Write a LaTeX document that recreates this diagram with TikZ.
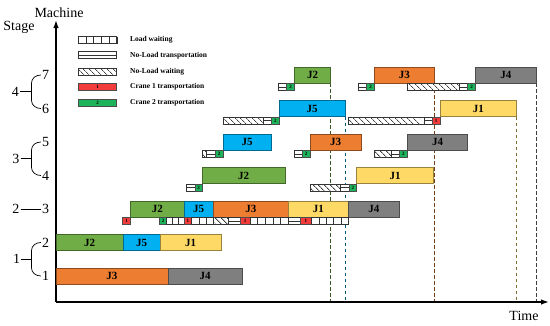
\documentclass[tikz,border=0pt]{standalone}
\usepackage{fontspec}
\setmainfont{Liberation Serif}
\usetikzlibrary{arrows.meta,patterns.meta,backgrounds}

\definecolor{jobone}{HTML}{FFD966}
\definecolor{jobtwo}{HTML}{70AD47}
\definecolor{jobthree}{HTML}{ED7D31}
\definecolor{jobfour}{HTML}{7F7F7F}
\definecolor{jobfive}{HTML}{00B0F0}
\definecolor{crane1}{HTML}{F23B3B}
\definecolor{crane2}{HTML}{1DB35B}

% job bar: name, colour, x1, x2, top, job number
\newcommand{\jobbar}[6]{%
  \node[jobbox, fill=#2, draw=#2!60!black, minimum width={#4-#3}, anchor=north west] (#1) at (#3,#5) {J#6};}
% load waiting: x1, x2, top, number of squares
\newcommand{\waitload}[4]{%
  \draw[smallbox] (#1,#3) rectangle (#2,#3+7);
  \pgfmathsetmacro{\sqw}{(#2-#1)/#4}
  \foreach \k in {1,...,#4} \draw[thin, black!80] (#1+\k*\sqw,#3) -- ++(0,7);}
% no-load transportation: x1, x2, top
\newcommand{\emptymove}[3]{%
  \draw[smallbox] (#1,#3) rectangle (#2,#3+7);
  \draw[thin, black!80] (#1,#3+3.5) -- (#2,#3+3.5);}
% no-load waiting: x1, x2, top
\newcommand{\idlewait}[3]{\draw[hatchbox] (#1,#3) rectangle (#2,#3+7);}
% crane transportation: name, crane, x1, x2, top
\newcommand{\cranemove}[5]{%
  \node[cranebox, fill=crane#2, minimum width={#4-#3}, anchor=north west] (#1) at (#3,#5) {#2};}

\begin{document}
\begin{tikzpicture}[x=1pt,y=-1pt,
	jobbox/.style={line width=0.8pt, inner sep=0pt, outer sep=0pt, minimum height=16pt,
		font=\fontsize{11}{11}\selectfont\bfseries},
	smallbox/.style={draw=black!80, line width=0.6pt, fill=white},
	hatchbox/.style={smallbox, postaction={pattern={Lines[angle=-45,distance=4pt,line width=0.8pt]}, pattern color=black!75}},
	cranebox/.style={draw=black!70, line width=0.5pt, inner sep=0pt, outer sep=0pt, minimum height=7pt,
		font=\fontsize{5}{5}\selectfont\bfseries},
	endline/.style={line width=1pt, dash pattern=on 3.5pt off 2.5pt},
	axisline/.style={line width=1.4pt, -{Latex[length=8pt,width=5.5pt]}},
	lbl/.style={font=\fontsize{14}{14}\selectfont, inner sep=1pt},
	legtext/.style={font=\fontsize{7.5}{7.5}\selectfont\bfseries, anchor=west, inner sep=0pt}]
	
	\useasboundingbox (0,0) rectangle (550,325);
	
	%--- axes ---
	\coordinate (origin) at (56,302);
	\coordinate (ytip) at (56,20);
	\coordinate (xtip) at (549,302);
	\draw[axisline] (origin) -- (ytip);
	\draw[axisline] (origin) -- (xtip);
	\node[lbl] (machine) at (59,12.5) {Machine};
	\node[lbl] (stage) at (19,27.5) {Stage};
	\node[lbl] (time) at (524,316) {Time};
	
	%--- machine and stage labels ---
	\foreach \m/\yy in {1/276, 2/242.5, 3/209, 4/175.5, 5/142, 6/108.5, 7/75}
		\node[lbl] (mc\m) at (45.5,\yy) {\m};
	\foreach \s/\xx/\yy in {1/16.5/259.25, 2/16/209, 3/16/158.75, 4/15.5/91.75}
		\node[lbl] (st\s) at (\xx,\yy) {\s};
	
	% braces stage -> machines
	\draw[line width=0.7pt] (st4.east) -- (31.5,91.75);
	\draw[line width=0.7pt] (mc7.west) to[out=180,in=90] (31.5,83) -- (31.5,100.5) to[out=-90,in=180] (mc6.west);
	\draw[line width=0.7pt] (st3.east) -- (31.5,158.75);
	\draw[line width=0.7pt] (mc5.west) to[out=180,in=90] (31.5,150) -- (31.5,167.5) to[out=-90,in=180] (mc4.west);
	\draw[line width=0.7pt] (st2.east) -- (mc3.west);
	\draw[line width=0.7pt] (st1.east) -- (31.5,259.25);
	\draw[line width=0.7pt] (mc2.west) to[out=180,in=90] (31.5,250.5) -- (31.5,268) to[out=-90,in=180] (mc1.west);
	
	%--- legend ---
	\waitload{78.3}{116.7}{36.7}{5}
	\emptymove{78.3}{116.7}{51.7}
	\idlewait{78.3}{116.7}{68.3}
	\cranemove{legA}{1}{78.3}{116.7}{83.3}
	\cranemove{legB}{2}{78.3}{116.7}{99.3}
	\node[legtext] (legwait) at (130,40.2) {Load waiting};
	\node[legtext] (legmove) at (130,55.5) {No-Load transportation};
	\node[legtext] (legidle) at (130,71.8) {No-Load waiting};
	\node[legtext] (legcA) at (130,87) {Crane 1 transportation};
	\node[legtext] (legcB) at (130,103) {Crane 2 transportation};
	
	%--- machine 1 ---
	\jobbar{m1j3}{jobthree}{56}{168}{268}{3}
	\jobbar{m1j4}{jobfour}{168}{242}{268}{4}
	
	%--- machine 2 ---
	\jobbar{m2j2}{jobtwo}{56}{123}{234.5}{2}
	\jobbar{m2j5}{jobfive}{123}{160}{234.5}{5}
	\jobbar{m2j1}{jobone}{160}{221}{234.5}{1}
	
	%--- machine 3 ---
	\jobbar{m3j2}{jobtwo}{130.7}{184}{201}{2}
	\jobbar{m3j5}{jobfive}{184}{213.3}{201}{5}
	\jobbar{m3j3}{jobthree}{213.3}{288.3}{201}{3}
	\jobbar{m3j1}{jobone}{288.3}{348.3}{201}{1}
	\jobbar{m3j4}{jobfour}{348.3}{399.3}{201}{4}
	\cranemove{m3a}{1}{122.7}{130.7}{217.5}
	\cranemove{m3b}{2}{159.3}{166.7}{217.5}
	\waitload{166.7}{184}{217.5}{3}
	\cranemove{m3c}{1}{184}{191.7}{217.5}
	\waitload{191.7}{213.3}{217.5}{3}
	\idlewait{213.3}{228.3}{217.5}
	\emptymove{228.3}{240}{217.5}
	\cranemove{m3d}{1}{240}{250}{217.5}
	\waitload{250}{288.3}{217.5}{5}
	\emptymove{288.3}{300}{217.5}
	\cranemove{m3e}{1}{300}{311.7}{217.5}
	\waitload{311.7}{348.3}{217.5}{5}
	
	%--- machine 4 ---
	\jobbar{m4j2}{jobtwo}{202.3}{285}{167.5}{2}
	\jobbar{m4j1}{jobone}{356.7}{433.3}{167.5}{1}
	\emptymove{186}{195}{184}
	\cranemove{m4a}{2}{195}{202.3}{184}
	\idlewait{310}{340.7}{184}
	\emptymove{340.7}{349}{184}
	\cranemove{m4b}{2}{349}{356.7}{184}
	
	%--- machine 5 ---
	\jobbar{m5j5}{jobfive}{223.3}{271}{134}{5}
	\jobbar{m5j3}{jobthree}{310}{361}{134}{3}
	\jobbar{m5j4}{jobfour}{407.3}{467.7}{134}{4}
	\idlewait{202.3}{206}{150.5}
	\emptymove{206}{215}{150.5}
	\cranemove{m5a}{2}{215}{223.3}{150.5}
	\emptymove{294.3}{302.3}{150.5}
	\cranemove{m5b}{2}{302.3}{310}{150.5}
	\idlewait{374}{391.7}{150.5}
	\emptymove{391.7}{399.3}{150.5}
	\cranemove{m5c}{2}{399.3}{407.3}{150.5}
	
	%--- machine 6 ---
	\jobbar{m6j5}{jobfive}{279}{345}{100.5}{5}
	\jobbar{m6j1}{jobone}{440}{516.7}{100.5}{1}
	\idlewait{223.3}{263.3}{117}
	\emptymove{263.3}{271.7}{117}
	\cranemove{m6a}{2}{271.7}{279}{117}
	\idlewait{348.3}{424.3}{117}
	\emptymove{424.3}{432.3}{117}
	\cranemove{m6b}{1}{432.3}{440}{117}
	
	%--- machine 7 ---
	\jobbar{m7j2}{jobtwo}{294.3}{330.7}{67}{2}
	\jobbar{m7j3}{jobthree}{374.3}{434.3}{67}{3}
	\jobbar{m7j4}{jobfour}{475.7}{536}{67}{4}
	\emptymove{278.3}{286.7}{83.5}
	\cranemove{m7a}{2}{286.7}{294.3}{83.5}
	\emptymove{358.7}{366.7}{83.5}
	\cranemove{m7b}{2}{366.7}{374.3}{83.5}
	\idlewait{407.7}{459.3}{83.5}
	\emptymove{459.3}{467.7}{83.5}
	\cranemove{m7c}{2}{467.7}{475.7}{83.5}
	
	%--- completion lines (behind the bars) ---
	\begin{pgfonlayer}{background}
		\foreach \n/\c in {m7j2/jobtwo, m6j5/jobfive, m7j3/jobthree, m6j1/jobone, m7j4/jobfour}
			\draw[endline, draw=\c!50!black] (\n.south east) -- (\n.south east |- origin);
	\end{pgfonlayer}
	
\end{tikzpicture}
\end{document}
